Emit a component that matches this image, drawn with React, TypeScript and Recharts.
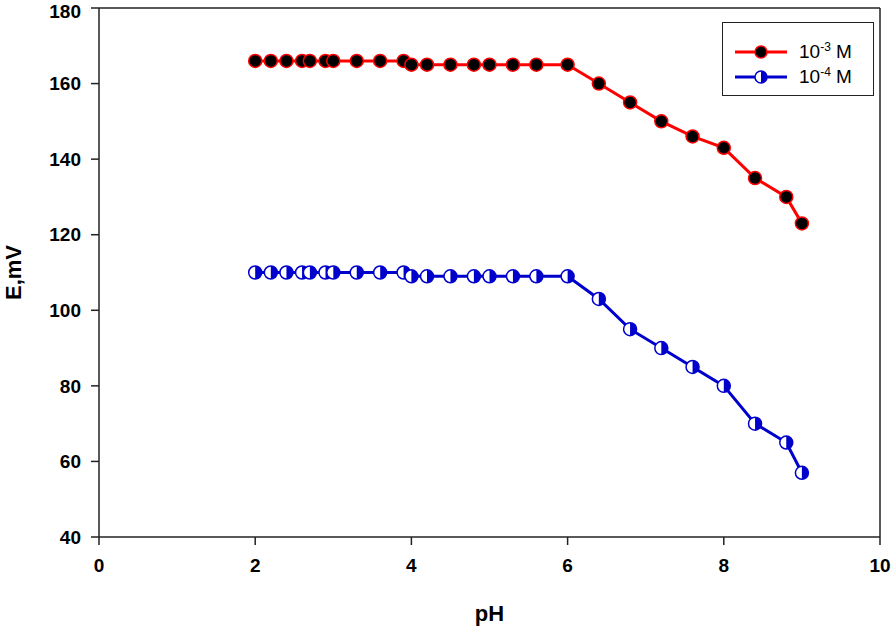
import { LineChart, Line, XAxis, YAxis, ReferenceLine, Label } from 'recharts';

const phValues = [2.0, 2.2, 2.4, 2.6, 2.7, 2.9, 3.0, 3.3, 3.6, 3.9, 4.0, 4.2, 4.5, 4.8, 5.0, 5.3, 5.6, 6.0, 6.4, 6.8, 7.2, 7.6, 8.0, 8.4, 8.8, 9.0];
const e3Values = [166, 166, 166, 166, 166, 166, 166, 166, 166, 166, 165, 165, 165, 165, 165, 165, 165, 165, 160, 155, 150, 146, 143, 135, 130, 123];
const e4Values = [110, 110, 110, 110, 110, 110, 110, 110, 110, 110, 109, 109, 109, 109, 109, 109, 109, 109, 103, 95, 90, 85, 80, 70, 65, 57];
const xTicks = [0, 2, 4, 6, 8, 10];
const yTicks = [40, 60, 80, 100, 120, 140, 160, 180];

const data = phValues.map((ph, i) => ({ ph, e3: e3Values[i], e4: e4Values[i] }));

const font = '"Liberation Sans", Arial, sans-serif';

// filled black dot with red rim
const RedDot = (props: any) => {
  const { cx, cy, index } = props;
  if (cx == null || cy == null) return null;
  return <circle key={`r-${index}`} cx={cx} cy={cy} r={6.5} fill="#000" stroke="#ff0000" strokeWidth={1.5} />;
};

// half-filled circle, right half solid
const HalfDot = (props: any) => {
  const { cx, cy, index } = props;
  if (cx == null || cy == null) return null;
  const r = 6.5;
  return (
    <g key={`b-${index}`}>
      <circle cx={cx} cy={cy} r={r} fill="#fff" stroke="#0000cc" strokeWidth={1.5} />
      <path d={`M${cx},${cy - r} A${r},${r} 0 0 1 ${cx},${cy + r} Z`} fill="#0000cc" />
    </g>
  );
};

const LegendRow = ({ color, half, exp }: { color: string; half: boolean; exp: string }) => (
  <div style={{ display: 'flex', alignItems: 'center', height: 25 }}>
    <svg width={56} height={16}>
      <line x1={2} y1={8} x2={54} y2={8} stroke={color} strokeWidth={3} />
      {half ? (
        <g>
          <circle cx={28} cy={8} r={6} fill="#fff" stroke="#0000cc" strokeWidth={1.5} />
          <path d="M28,2 A6,6 0 0 1 28,14 Z" fill="#0000cc" />
        </g>
      ) : (
        <circle cx={28} cy={8} r={6} fill="#000" stroke="#ff0000" strokeWidth={1.5} />
      )}
    </svg>
    <span style={{ marginLeft: 10, fontSize: 19, fontFamily: font, color: '#000', lineHeight: '20px' }}>
      10<sup style={{ fontSize: 12, lineHeight: 0 }}>{exp}</sup> M
    </span>
  </div>
);

const tickStyle = { fill: '#000', fontSize: 19, fontWeight: 'bold', fontFamily: font };
const titleStyle = { fill: '#000', fontSize: 22, fontWeight: 'bold', fontFamily: font };

const App = () => {
  return (
    <div style={{ position: 'absolute', left: 0, top: 0, width: 894, height: 628, background: '#fff' }}>
      <LineChart width={894} height={628} data={data} margin={{ top: 8, right: 14, left: 39, bottom: 61 }}>
        <XAxis
          type="number"
          dataKey="ph"
          domain={[0, 10]}
          ticks={xTicks}
          tickLine={{ stroke: '#222', strokeWidth: 1.5 }}
          axisLine={{ stroke: '#222', strokeWidth: 1.5 }}
          tickSize={8}
          tickMargin={14}
          height={30}
          tick={tickStyle}
        >
          <Label value="pH" position="bottom" offset={38} style={{ ...titleStyle, textAnchor: 'middle' }} />
        </XAxis>
        <YAxis
          type="number"
          domain={[40, 180]}
          ticks={yTicks}
          width={60}
          tickLine={{ stroke: '#222', strokeWidth: 1.5 }}
          axisLine={{ stroke: '#222', strokeWidth: 1.5 }}
          tickSize={8}
          tickMargin={10}
          tick={tickStyle}
        >
          <Label value="E,mV" angle={-90} position="left" offset={26} style={{ ...titleStyle, textAnchor: 'middle' }} />
        </YAxis>
        <ReferenceLine y={180} stroke="#222" strokeWidth={1.5} />
        <ReferenceLine x={10} stroke="#222" strokeWidth={1.5} />
        <Line dataKey="e3" stroke="#ff0000" strokeWidth={3} dot={RedDot} isAnimationActive={false} />
        <Line dataKey="e4" stroke="#0000cc" strokeWidth={3} dot={HalfDot} isAnimationActive={false} />
      </LineChart>
      <div
        style={{
          position: 'absolute',
          left: 722,
          top: 22,
          width: 152,
          height: 74,
          border: '1.5px solid #222',
          boxSizing: 'border-box',
          padding: '16px 0 0 10px',
          background: '#fff',
        }}
      >
        <LegendRow color="#ff0000" half={false} exp="-3" />
        <LegendRow color="#0000cc" half={true} exp="-4" />
      </div>
    </div>
  );
};

export default App;
